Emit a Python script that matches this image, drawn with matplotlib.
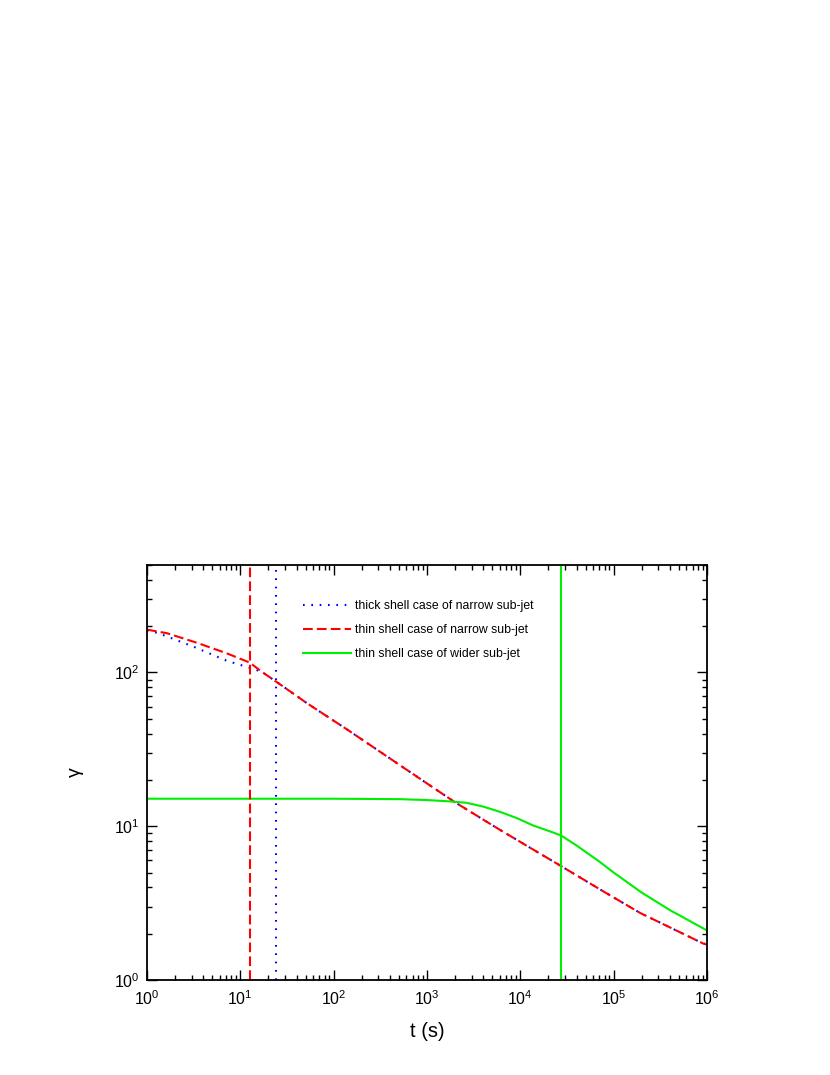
import numpy as np
import matplotlib
matplotlib.use("Agg")
import matplotlib.pyplot as plt
from matplotlib.ticker import LogLocator, NullFormatter

plt.rcParams["font.family"] = ["Liberation Sans", "DejaVu Sans"]
plt.rcParams["lines.scale_dashes"] = False

# thick shell case, narrow sub-jet (blue dotted)
t_thick = [1, 1.33, 3.16, 7.2, 11.6, 17, 25, 52, 140, 510, 2000, 6000, 27400, 77500, 192000, 904000, 1e6]
g_thick = [188, 180, 147, 119, 109, 101, 86, 63, 42.5, 25, 14.3, 9.5, 5.5, 3.77, 2.73, 1.73, 1.70]

# thin shell case, narrow sub-jet (red dashed)
t_thin = [1, 1.64, 3.43, 7.2, 12.6, 17, 25, 52, 140, 510, 2000, 6000, 27400, 77500, 192000, 904000, 1e6]
g_thin = [190, 180, 156, 133, 116, 101, 86, 63, 42.5, 25, 14.3, 9.5, 5.5, 3.77, 2.73, 1.73, 1.70]

# thin shell case, wider sub-jet (green solid)
t_wide = [1, 100, 513, 1000, 1767, 2670, 4030, 6070, 9160, 13800, 20900, 27400,
          40000, 70000, 1e5, 2e5, 4e5, 1e6]
g_wide = [15.1, 15.1, 15.0, 14.8, 14.5, 14.2, 13.4, 12.4, 11.3, 10.1, 9.25, 8.7,
          7.5, 5.9, 5.0, 3.7, 2.85, 2.1]

# characteristic times (vertical markers)
t_mark_thin = 12.6
t_mark_thick = 24.3
t_mark_wide = 27400

labels = [
    "thick shell case of narrow sub-jet",
    "thin shell case of narrow sub-jet",
    "thin shell case of wider sub-jet",
]

fig = plt.figure(figsize=(8.3, 10.75), dpi=100)
ax = fig.add_axes([147 / 830, 95 / 1075, 560 / 830, 415 / 1075])

dot = (0, (1.2, 4.8))
dash = (0, (7, 3))

ax.plot(t_thick, g_thick, color="blue", lw=1.5, linestyle=dot, label=labels[0])
ax.plot(t_thin, g_thin, color="red", lw=1.5, linestyle=dash, label=labels[1])
ax.plot(t_wide, g_wide, color="#00ee00", lw=1.5, linestyle="-", label=labels[2])

ax.axvline(t_mark_thin, color="red", lw=1.5, linestyle=dash)
ax.axvline(t_mark_thick, color="blue", lw=1.5, linestyle=dot)
ax.axvline(t_mark_wide, color="#00ee00", lw=1.5)

ax.set_xscale("log")
ax.set_yscale("log")
ax.set_xlim(1, 1e6)
ax.set_ylim(1, 500)

ax.xaxis.set_major_locator(LogLocator(base=10, numticks=10))
ax.xaxis.set_minor_locator(LogLocator(base=10, subs=np.arange(2, 10), numticks=20))
ax.yaxis.set_minor_locator(LogLocator(base=10, subs=np.arange(2, 10), numticks=20))
ax.xaxis.set_minor_formatter(NullFormatter())
ax.yaxis.set_minor_formatter(NullFormatter())

ax.tick_params(which="both", direction="in", top=True, right=True, width=1.0, labelsize=11.5)
ax.tick_params(which="major", length=7)
ax.tick_params(which="minor", length=3.5)
ax.tick_params(axis="x", which="major", pad=7)
ax.tick_params(axis="y", which="major", pad=5)
for sp in ax.spines.values():
    sp.set_linewidth(1.3)

ax.set_xlabel("t (s)", fontsize=14.5, labelpad=10)
ax.set_ylabel("γ", fontsize=14, labelpad=22)

ax.legend(loc="upper left", bbox_to_anchor=(0.279, 0.916), frameon=False,
          fontsize=8.8, handlelength=3.9, handletextpad=0.3, labelspacing=1.0,
          borderpad=0, borderaxespad=0)

fig.savefig("out.png", dpi=100)
